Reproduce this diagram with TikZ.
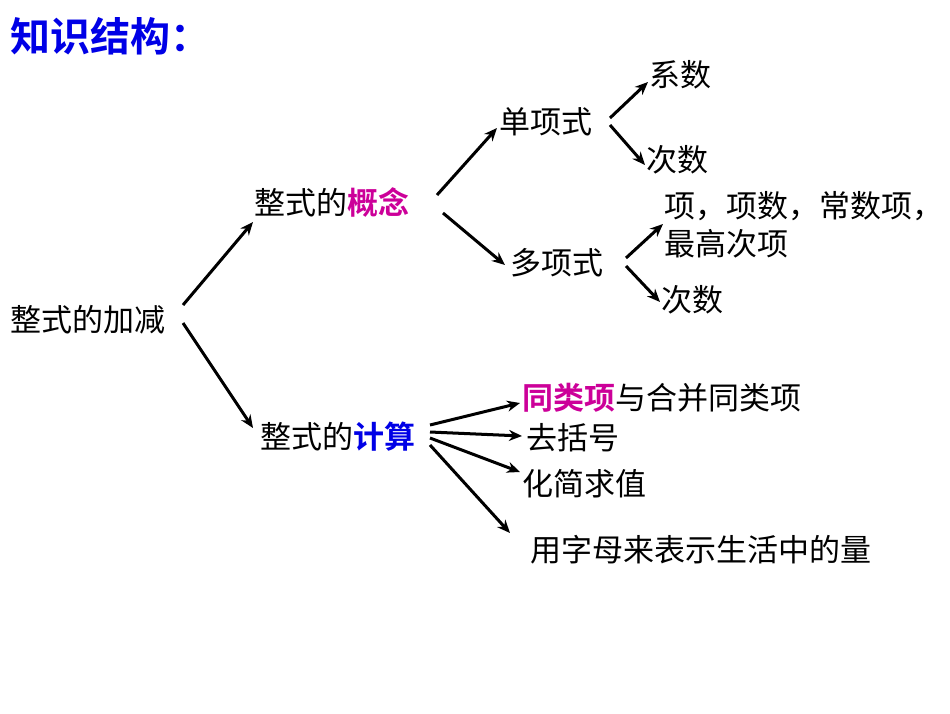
\documentclass[tikz,border=0pt]{standalone}
\usepackage{fontspec}
\newfontfamily\cjk{Noto Sans CJK SC}[BoldFont={Noto Sans CJK SC Bold}]
\usetikzlibrary{arrows.meta}
\definecolor{mag}{RGB}{204,0,153}
\definecolor{blu}{RGB}{0,0,230}
\tikzset{
 x=1pt,y=-1pt,
 lbl/.style={font=\cjk\fontsize{31}{38}\selectfont,inner sep=0pt},
 arr/.style={line width=3pt,-{Stealth[length=13pt,width=11pt]}}
}
\begin{document}
\begin{tikzpicture}
\useasboundingbox (0,0) rectangle (950,713);
\node[lbl,anchor=west,text=blu,font=\cjk\fontsize{40}{44}\selectfont\bfseries] (title) at (10,36) {知识结构：};
\node[lbl] (root) at (88,320) {整式的加减};
\node[lbl] (gn) at (332,203) {整式的\textcolor{mag}{\bfseries 概念}};
\node[lbl] (js) at (338,437) {整式的\textcolor{blu}{\bfseries 计算}};
\node[lbl] (dan) at (546,122) {单项式};
\node[lbl] (duo) at (557,263) {多项式};
\node[lbl] (xs) at (680,75) {系数};
\node[lbl] (cs1) at (677,160) {次数};
\node[lbl,anchor=north west,align=left] (xiang) at (664,191) {项，项数，常数项，\\最高次项};
\node[lbl] (cs2) at (692,300) {次数};
\node[lbl,anchor=west] (tl) at (522,398) {\textcolor{mag}{\bfseries 同类项}与合并同类项};
\node[lbl,anchor=west] (qk) at (526,438) {去括号};
\node[lbl,anchor=west] (hj) at (522,484) {化简求值};
\node[lbl,anchor=west] (yz) at (530,550) {用字母来表示生活中的量};
\draw[arr] (183,305) -- (253,222);
\draw[arr] (183,323) -- (253,428);
\draw[arr] (437,195) -- (497,128);
\draw[arr] (443,213) -- (505,265);
\draw[arr] (610,118) -- (648,82);
\draw[arr] (610,125) -- (645,165);
\draw[arr] (626,258) -- (663,224);
\draw[arr] (626,266) -- (660,302);
\draw[arr] (430,425) -- (520,403);
\draw[arr] (430,432) -- (522,436);
\draw[arr] (430,438) -- (520,472);
\draw[arr] (430,445) -- (510,533);
\end{tikzpicture}
\end{document}
